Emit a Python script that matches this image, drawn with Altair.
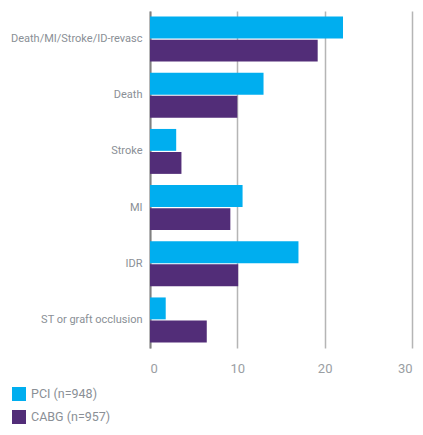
import altair as alt
import pandas as pd

categories = ["Death/MI/Stroke/ID-revasc", "Death", "Stroke", "MI", "IDR", "ST or graft occlusion"]
pci = [22.1, 13.0, 3.0, 10.6, 17.0, 1.8]
cabg = [19.2, 10.0, 3.6, 9.2, 10.1, 6.5]
series = ["PCI (n=948)", "CABG (n=957)"]
colors = ["#00AEEF", "#522D78"]

rows = []
for c, p, g in zip(categories, pci, cabg):
    rows.append({"cat": c, "series": series[0], "value": p})
    rows.append({"cat": c, "series": series[1], "value": g})
df = pd.DataFrame(rows)

FONT = "Roboto"

chart = alt.Chart(df).mark_bar().encode(
    y=alt.Y("cat:N", sort=categories, title=None,
            scale=alt.Scale(paddingInner=0.2, paddingOuter=0.1),
            axis=alt.Axis(domain=True, domainColor="#808080", domainWidth=2,
                          ticks=False, labelPadding=8, labelFontSize=11,
                          labelColor="#8a8f96", labelFont=FONT, grid=False)),
    yOffset=alt.YOffset("series:N", sort=series, scale=alt.Scale(paddingInner=0.05)),
    x=alt.X("value:Q", title=None,
            scale=alt.Scale(domain=[0, 30], nice=False),
            axis=alt.Axis(values=[0, 10, 20, 30], domain=False, ticks=False,
                          grid=True, gridColor="#b5b5b5", gridWidth=1.5,
                          labelFontSize=13, labelColor="#9a9ea3", labelFont=FONT,
                          labelPadding=14)),
    color=alt.Color("series:N", sort=series,
                    scale=alt.Scale(domain=series, range=colors),
                    legend=alt.Legend(title=None, orient="none", legendX=-138, legendY=376,
                                      direction="vertical", symbolType="square",
                                      symbolSize=196, symbolStrokeWidth=0,
                                      labelFontSize=12.5, labelColor="#8a8f96",
                                      labelFont=FONT, rowPadding=9, symbolOffset=0,
                                      labelOffset=5, padding=0)),
).properties(
    width=262, height=337,
    autosize=alt.AutoSizeParams(type="none"),
    padding={"left": 142, "top": 3, "right": 3, "bottom": 77},
).configure_view(stroke=None)

chart.save("out.html", embed_options={"renderer": "svg", "actions": False})
